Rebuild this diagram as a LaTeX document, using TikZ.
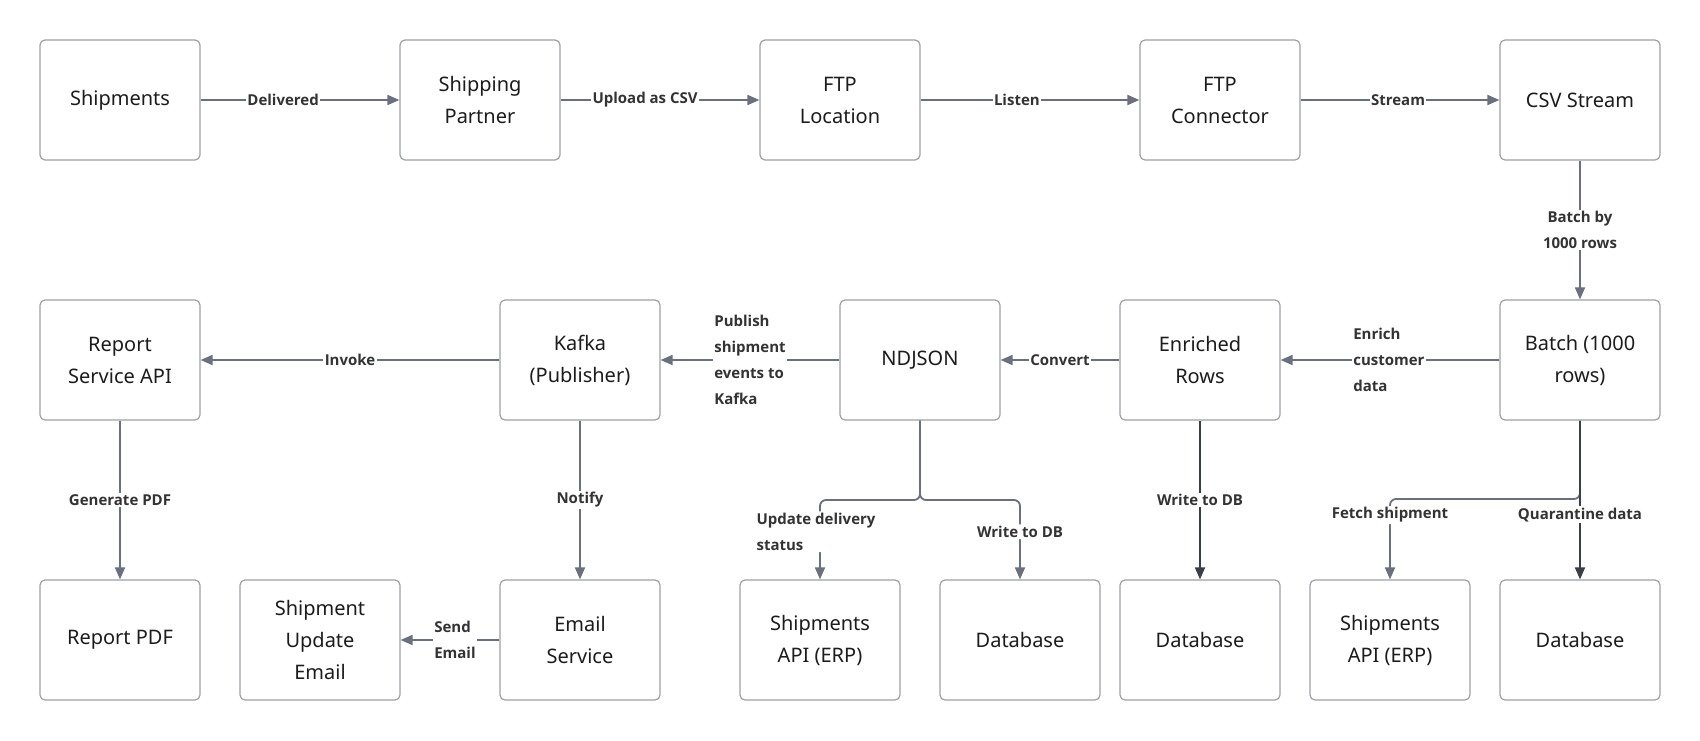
\documentclass[tikz,border=0pt]{standalone}
\usepackage{fontspec}
\setmainfont{Noto Sans}
\newfontfamily\labfont{Open Sans}
\usetikzlibrary{arrows.meta}
\definecolor{edge}{HTML}{6B7080}
\definecolor{edgedark}{HTML}{3A3E48}
\definecolor{boxline}{HTML}{9EA0A6}
\definecolor{lbl}{HTML}{333333}
\definecolor{boxtext}{HTML}{1C1C1C}
\begin{document}
\begin{tikzpicture}[x=1pt,y=-1pt,
  box/.style={draw=boxline, line width=1.2pt, rounded corners=5pt, minimum width=160pt, minimum height=120pt, align=center, font=\fontsize{20}{32}\selectfont, text=boxtext, inner sep=0pt},
  conn/.style={draw=edge, line width=1.8pt, -{Triangle[length=12pt,width=10pt]}},
  conndark/.style={draw=edgedark, line width=1.8pt, -{Triangle[length=12pt,width=10pt]}},
  lab/.style={font=\labfont\bfseries\fontsize{15}{26}\selectfont, text=lbl, fill=white, inner sep=1.5pt, align=center},
  labl/.style={lab, align=left}]
\fill[white] (0,0) rectangle (1700,740);
\useasboundingbox (0,0) rectangle (1700,740);
% row 1
\node[box] (ship) at (120,100) {Shipments};
\node[box] (partner) at (480,100) {Shipping\\Partner};
\node[box] (ftploc) at (840,100) {FTP\\Location};
\node[box] (ftpcon) at (1220,100) {FTP\\Connector};
\node[box] (csv) at (1580,100) {CSV Stream};
% row 2
\node[box] (report) at (120,360) {Report\\Service API};
\node[box] (kafka) at (580,360) {Kafka\\(Publisher)};
\node[box] (ndjson) at (920,360) {NDJSON};
\node[box] (enriched) at (1200,360) {Enriched\\Rows};
\node[box] (batch) at (1580,360) {Batch (1000\\rows)};
% row 3
\node[box] (pdf) at (120,640) {Report PDF};
\node[box] (email) at (320,640) {Shipment\\Update\\Email};
\node[box] (emailsvc) at (580,640) {Email\\Service};
\node[box] (erp1) at (820,640) {Shipments\\API (ERP)};
\node[box] (db1) at (1020,640) {Database};
\node[box] (db2) at (1200,640) {Database};
\node[box] (erp2) at (1390,640) {Shipments\\API (ERP)};
\node[box] (db3) at (1580,640) {Database};
% junctions
\coordinate (nj) at (920,500);
\coordinate (bj) at (1580,499);
% connectors row 1
\draw[conn] (ship) -- node[lab, pos=0.415] {Delivered} (partner);
\draw[conn] (partner) -- node[lab, pos=0.425] {Upload as CSV} (ftploc);
\draw[conn] (ftploc) -- node[lab, pos=0.44] {Listen} (ftpcon);
\draw[conn] (ftpcon) -- node[lab, pos=0.49] {Stream} (csv);
\draw[conn] (csv) -- node[lab] {Batch by\\1000 rows} (batch);
% row 2
\draw[conn] (batch) -- node[labl, pos=0.505] {Enrich\\customer\\data} (enriched);
\draw[conn] (enriched) -- node[lab] {Convert} (ndjson);
\draw[conn] (ndjson) -- node[labl] {Publish\\shipment\\events to\\Kafka} (kafka);
\draw[conn] (kafka) -- node[lab] {Invoke} (report);
% down
\draw[conn] (report) -- node[lab] {Generate PDF} (pdf);
\draw[conn] (kafka) -- node[lab] {Notify} (emailsvc);
\draw[conn] (emailsvc) -- node[labl, pos=0.45] {Send\\Email} (email);
\draw[conn, rounded corners=6pt] (ndjson) -- (nj) -| node[labl, pos=0.7, xshift=-4pt] {Update delivery\\status} (erp1);
\draw[conn, rounded corners=6pt] (ndjson) -- (nj) -| node[lab, pos=0.7] {Write to DB} (db1);
\draw[conndark] (enriched) -- node[lab] {Write to DB} (db2);
\draw[conn, rounded corners=6pt] (batch) -- (bj) -| node[lab, pos=0.6] {Fetch shipment} (erp2);
\draw[conndark] (batch) -- node[lab, pos=0.594] {Quarantine data} (db3);
\end{tikzpicture}
\end{document}
